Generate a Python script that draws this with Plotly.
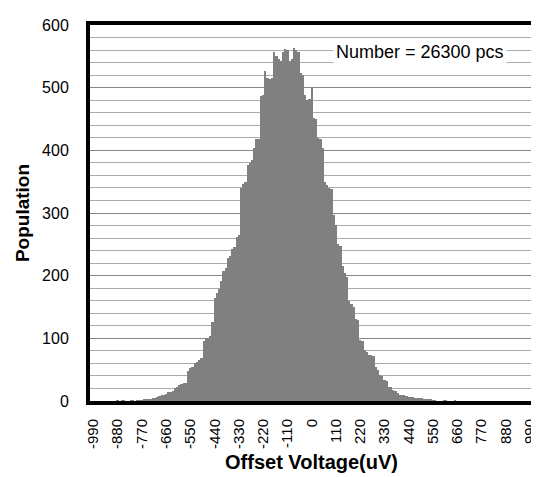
import plotly.graph_objects as go

# Bin centres of the histogram (uV), 10 uV wide bins
bin_centers = list(range(-990, 1000, 10))

# Population per bin (-990 ... 990)
counts = [
    0, 0, 0, 0, 0, 0, 0, 0, 0, 0,            # -990 .. -900
    0, 1, 0, 1, 1, 0, 0, 1, 1, 0,            # -890 .. -800
    1, 1, 1, 2, 2, 3, 3, 4, 5, 6,            # -790 .. -700
    8, 9, 10, 11, 14, 15, 16, 21, 22, 25,    # -690 .. -600
    27, 28, 29, 48, 52, 55, 60, 63, 65, 68,  # -590 .. -500
    96, 99, 101, 103, 126, 165, 172, 178, 192, 208,   # -490 .. -400
    213, 228, 232, 243, 246, 262, 265, 340, 347, 350, # -390 .. -300
    376, 380, 384, 404, 418, 418, 486, 488, 527, 515, # -290 .. -200
    514, 516, 557, 550, 545, 543, 557, 562, 560, 543, # -190 .. -100
    545, 563, 560, 557, 523, 520, 489, 480, 482, 499, # -90 .. 0
    452, 450, 420, 418, 404, 349, 345, 340, 338, 297, # 10 .. 100
    281, 250, 247, 215, 205, 198, 160, 155, 150, 131, # 110 .. 200
    130, 97, 96, 81, 78, 74, 73, 72, 55, 50,          # 210 .. 300
    42, 40, 34, 32, 23, 22, 18, 16, 12, 10,           # 310 .. 400
    10, 9, 8, 7, 6, 6, 5, 5, 4, 4,                    # 410 .. 500
    3, 3, 3, 2, 1, 1, 0, 0, 0, 1,                     # 510 .. 600
    1, 0, 0, 0, 1, 0, 0, 0, 0, 0,                     # 610 .. 700
    0, 0, 0, 0, 0, 0, 0, 0, 0, 0,                     # 710 .. 800
    0, 0, 0, 0, 0, 0, 0, 0, 0, 0,                     # 810 .. 900
    0, 0, 0, 0, 0, 0, 0, 0, 0,                        # 910 .. 990
]

x_tick_vals = [-990, -880, -770, -660, -550, -440, -330, -220, -110, 0,
               110, 220, 330, 440, 550, 660, 770, 880, 990]
x_tick_text = [str(v) for v in x_tick_vals]
y_tick_vals = [0, 100, 200, 300, 400, 500, 600]

annotation_text = "Number = 26300 pcs"
x_title = "Offset Voltage(uV)"
y_title = "Population"

FONT = "Arial, Liberation Sans, sans-serif"

fig = go.Figure(
    go.Bar(
        x=bin_centers,
        y=counts,
        width=10,
        marker=dict(color="#808080", line=dict(width=0)),
    )
)

fig.update_layout(
    width=539,
    height=477,
    margin=dict(l=82, r=9, t=12, b=84),
    paper_bgcolor="white",
    plot_bgcolor="white",
    bargap=0,
    showlegend=False,
    font=dict(family=FONT, size=15, color="black"),
)

fig.update_xaxes(
    range=[-1005, 1003],
    tickmode="array",
    tickvals=x_tick_vals,
    ticktext=x_tick_text,
    tickangle=-90,
    ticks="",
    ticklabelstandoff=8,
    ticklabeloverflow="allow",
    tickfont=dict(family=FONT, size=15, color="black"),
    showgrid=False,
    zeroline=False,
    showline=True,
    linecolor="black",
    linewidth=4,
    mirror=True,
    title=dict(text=x_title, font=dict(family=FONT, size=20, color="black", weight="bold"), standoff=8),
)

fig.update_yaxes(
    range=[0, 600],
    tickmode="array",
    tickvals=y_tick_vals,
    ticks="",
    ticklabelstandoff=14,
    tickfont=dict(family=FONT, size=16, color="black"),
    showgrid=True,
    gridcolor="#858585",
    gridwidth=1,
    minor=dict(dtick=20, showgrid=True, gridcolor="#ababab", gridwidth=1),
    zeroline=False,
    showline=True,
    linecolor="black",
    linewidth=4,
    mirror=True,
    title=dict(text=y_title, font=dict(family=FONT, size=19, color="black", weight="bold"), standoff=8),
)

fig.add_annotation(
    x=492, y=557, xref="x", yref="y",
    text=annotation_text,
    showarrow=False,
    bgcolor="white",
    borderpad=2,
    font=dict(family=FONT, size=18, color="black"),
    xanchor="center", yanchor="middle",
)

fig.write_html("out.html")
